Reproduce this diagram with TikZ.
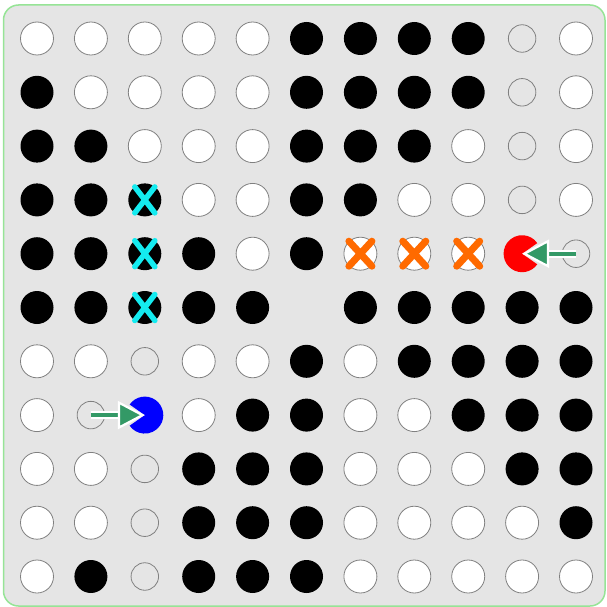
\documentclass[tikz,border=0pt]{standalone}
\usetikzlibrary{arrows.meta}
\definecolor{boardfill}{RGB}{229,229,229}
\definecolor{boardedge}{RGB}{150,228,150}
\definecolor{arrowgreen}{RGB}{51,153,102}
\definecolor{crossorange}{RGB}{255,106,0}
\definecolor{crosscyan}{RGB}{20,235,240}

\begin{document}
\begin{tikzpicture}[x=1pt, y=-1pt,
    disc/.style={circle, inner sep=0pt, minimum size=33pt},
    cell-w/.style={disc, draw=gray, fill=white, line width=0.8pt},
    cell-b/.style={disc, fill=black},
    cell-e/.style={circle, inner sep=0pt, minimum size=27.5pt, draw=gray, line width=0.8pt},
    cell-n/.style={disc},
    cross/.style={line width=#1, line cap=round},
    moverhalo/.style={white, line width=8pt, shorten >=22pt},
    mover/.style={arrowgreen, line width=4pt,
      -{Triangle[length=27pt, width=28pt, line width=2.2pt, color=white, fill=arrowgreen]}}]
  \def\rad{18.5}
  \useasboundingbox (0,0) rectangle (606,607);
  \draw[boardedge, fill=boardfill, line width=1.5pt, rounded corners=15pt] (3.5,5) rectangle (605,606);

  % board row by row: w white, b black, e empty, n nothing
  \foreach \row [count=\r] in {
      {w,w,w,w,w,b,b,b,b,e,w},
      {b,w,w,w,w,b,b,b,b,e,w},
      {b,b,w,w,w,b,b,b,w,e,w},
      {b,b,b,w,w,b,b,w,w,e,w},
      {b,b,b,b,w,b,w,w,w,n,e},
      {b,b,b,b,b,n,b,b,b,b,b},
      {w,w,e,w,w,b,w,b,b,b,b},
      {w,e,n,w,b,b,w,w,b,b,b},
      {w,w,e,b,b,b,w,w,w,b,b},
      {w,w,e,b,b,b,w,w,w,w,b},
      {w,b,e,b,b,b,w,w,w,w,w}}
    \foreach \cell [count=\c] in \row
      \node[cell-\cell] (d-\r-\c) at ({37+(\c-1)*53.9}, {38.5+(\r-1)*53.8}) {};

  % the two movers
  \fill[red] (d-5-10.center) -- ++(35:\rad) arc (35:325:\rad) -- cycle;
  \fill[blue] (d-8-3.center) -- ++(-145:\rad) arc (-145:145:\rad) -- cycle;
  \draw[moverhalo] (d-5-11.center) -- (d-5-10.center);
  \draw[mover] (d-5-11.center) -- (d-5-10.center);
  \draw[moverhalo] (d-8-2.center) -- (d-8-3.center);
  \draw[mover] (d-8-2.center) -- (d-8-3.center);

  % crossed out
  \foreach \r in {4,5,6}
    \draw[crosscyan, cross=5.5pt] (d-\r-3.center) ++(-10,-13) -- ++(20,26) ++(0,-26) -- ++(-20,26);
  \foreach \c in {7,8,9}
    \draw[crossorange, cross=7pt] (d-5-\c.center) ++(-11.5,-12.5) -- ++(23,25) ++(0,-25) -- ++(-23,25);
\end{tikzpicture}
\end{document}
